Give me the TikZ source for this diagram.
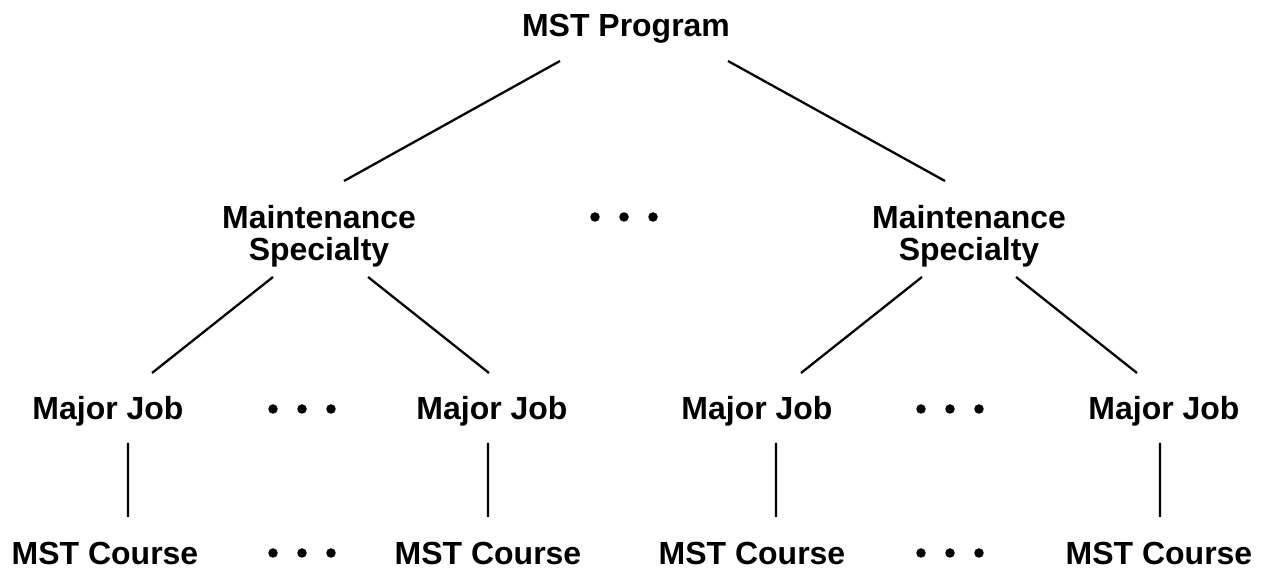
\documentclass[tikz,border=0pt]{standalone}
\usepackage{fontspec}
\setmainfont{Liberation Sans}
\usetikzlibrary{calc}

\tikzset{
  box/.style={font=\fontsize{18.2}{18.2}\selectfont\bfseries, inner sep=0pt},
  link/.style={line width=1.3pt},
}

\begin{document}
\begin{tikzpicture}
    \useasboundingbox (0,0) rectangle (25.3,11.4);

    % Program (top level)
    \node[box, anchor=base] (prog) at (12.52,10.66) {MST Program};

    % Specialties
    \node[box, align=center, anchor=north] (specA) at (6.38,7.30) {Maintenance\\Specialty};
    \node[box, align=center, anchor=north] (specB) at (19.38,7.30) {Maintenance\\Specialty};

    % Major jobs
    \node[box, anchor=base] (jobA) at (2.16,3.00) {Major Job};
    \node[box, anchor=base] (jobB) at (9.84,3.00) {Major Job};
    \node[box, anchor=base] (jobC) at (15.14,3.00) {Major Job};
    \node[box, anchor=base] (jobD) at (23.28,3.00) {Major Job};

    % Courses
    \node[box, anchor=base] (courseA) at (2.10,0.10) {MST Course};
    \node[box, anchor=base] (courseB) at (9.76,0.10) {MST Course};
    \node[box, anchor=base] (courseC) at (15.04,0.10) {MST Course};
    \node[box, anchor=base] (courseD) at (23.18,0.10) {MST Course};

    % Program -> specialties
    \draw[link] ($(prog.base)+(-1.32,-0.48)$) -- ($(specA.north)+(0.50,0.48)$);
    \draw[link] ($(prog.base)+(2.04,-0.48)$) -- ($(specB.north)+(-0.48,0.48)$);

    % Specialties -> major jobs
    \draw[link] ($(specA.north)+(-0.92,-1.44)$) -- ($(jobA.base)+(0.88,0.94)$);
    \draw[link] ($(specA.north)+(0.98,-1.44)$) -- ($(jobB.base)+(-0.06,0.94)$);
    \draw[link] ($(specB.north)+(-0.94,-1.44)$) -- ($(jobC.base)+(0.88,0.94)$);
    \draw[link] ($(specB.north)+(0.94,-1.44)$) -- ($(jobD.base)+(-0.54,0.94)$);

    % Major jobs -> courses
    \draw[link] ($(jobA.base)+(0.40,-0.46)$) -- ($(courseA.base)+(0.46,0.96)$);
    \draw[link] ($(jobB.base)+(-0.08,-0.46)$) -- ($(courseB.base)+(0.00,0.96)$);
    \draw[link] ($(jobC.base)+(0.38,-0.46)$) -- ($(courseC.base)+(0.48,0.96)$);
    \draw[link] ($(jobD.base)+(-0.08,-0.46)$) -- ($(courseD.base)+(0.02,0.96)$);

    % Ellipsis dots
    \foreach \x in {-0.58,0,0.58} {
        \fill (12.48+\x,7.06) circle (0.095);
        \fill (6.04+\x,3.22) circle (0.095);
        \fill (19.00+\x,3.22) circle (0.095);
        \fill (6.04+\x,0.34) circle (0.095);
        \fill (19.00+\x,0.34) circle (0.095);
    }

\end{tikzpicture}
\end{document}
